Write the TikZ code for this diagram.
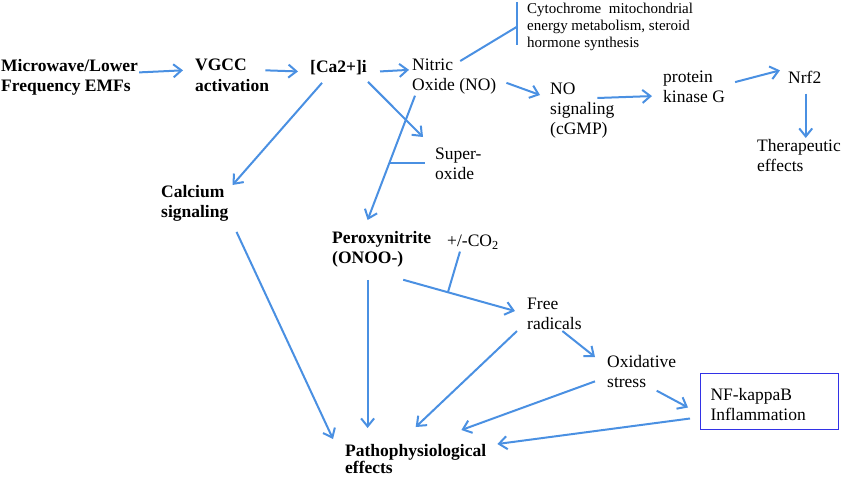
\documentclass[tikz,border=0pt]{standalone}
\usepackage{fontspec}
\setmainfont{Liberation Serif}
\usetikzlibrary{arrows.meta}
\definecolor{linkblue}{RGB}{74,144,226}
\definecolor{boxblue}{RGB}{50,50,230}
\tikzset{
  txt/.style={anchor=north west,inner sep=0pt,align=left,font=\fontsize{17.5}{20}\selectfont},
  btxt/.style={txt,font=\fontsize{17.5}{20.5}\selectfont\bfseries},
  smalltxt/.style={txt,font=\fontsize{15}{16.7}\selectfont},
  bar/.style={draw=linkblue,line width=2pt},
  link/.style={bar,-{Straight Barb[length=8pt,width=13pt]}},
}
\begin{document}
\begin{tikzpicture}[x=1pt,y=-1pt]
  \useasboundingbox (0,0) rectangle (850,476);
  \node (mw) at (1,59) [btxt] {Microwave/Lower\\Frequency EMFs};
  \node (vgcc) at (195,59) [btxt] {VGCC\\activation};
  \node (ca) at (310,60) [btxt] {[Ca2+]i};
  \node (no) at (412,59) [txt] {Nitric\\Oxide (NO)};
  \node (cyto) at (527,3) [smalltxt] {Cytochrome\ \ mitochondrial\\energy metabolism, steroid\\hormone synthesis};
  \node (nosig) at (550,83) [txt] {NO\\signaling\\(cGMP)};
  \node (pkg) at (663,71) [txt] {protein\\kinase G};
  \node (nrf) at (788,71) [txt] {Nrf2};
  \node (ther) at (757,139) [txt] {Therapeutic\\effects};
  \node (sup) at (435,148) [txt] {Super-\\oxide};
  \node (cal) at (161,185) [btxt] {Calcium\\signaling};
  \node (per) at (332,231) [btxt] {Peroxynitrite\\(ONOO-)};
  \node (co2) at (447,235) [txt] {+/-CO\textsubscript{2}};
  \node (free) at (527,298) [txt] {Free\\radicals};
  \node (oxi) at (607,355) [txt] {Oxidative\\stress};
  \node (nfk) at (700,373) [txt,draw=boxblue,line width=1pt,inner xsep=10pt,text width=118pt,minimum height=56pt,text depth=14pt] {NF-kappaB\\Inflammation};
  \node (pat) at (345,444) [btxt,font=\fontsize{17.5}{17.5}\selectfont\bfseries] {Pathophysiological\\effects};
  \coordinate (supend) at ([xshift=-10pt]sup.west);
  \coordinate (perfoot) at (per.south |- pat.north);
  \coordinate (nrffoot) at (nrf.south |- ther.north);

  \draw[link] ([shift={(1,-5)}]mw.east) -- ([shift={(-12,-5)}]vgcc.west);
  \draw[link] ([shift={(-4,-5)}]vgcc.east) -- ([shift={(-12,4)}]ca.west);
  \draw[link] ([shift={(13,4)}]ca.east) -- ([shift={(-3,-7)}]no.west);
  \draw[bar] ([shift={(-10,-1)}]cyto.north west) -- ([shift={(-10,-5)}]cyto.south west);
  \draw[bar] ([shift={(6,2)}]no.north) -- ([shift={(-10,0)}]cyto.west);
  \draw[link] ([shift={(10,6)}]no.east) -- ([shift={(-10,12)}]nosig.north west);
  \draw[link] ([shift={(15,15)}]nosig.north) -- ([shift={(-11,9)}]pkg.west);
  \draw[link] ([shift={(10,-5)}]pkg.east) -- ([shift={(-8,-7)}]nrf.west);
  \draw[link] ([shift={(1,10)}]nrf.south) -- ([shift={(1,-1)}]nrffoot);
  \draw[link] ([shift={(1,7)}]ca.south east) -- ([shift={(-12,-11)}]sup.north west);
  \draw[link] ([shift={(12,8)}]ca.south west) -- ([shift={(4,0)}]cal.north east);
  \draw[link] ([shift={(3,1)}]no.south west) -- coordinate[pos=0.54] (supjoin) ([shift={(-14,-11)}]per.north);
  \draw[bar] (supjoin) -- (supjoin -| supend);
  \draw[link] ([shift={(-28,12)}]per.south east) -- coordinate[pos=0.4] (cojoin) ([shift={(-12,-3)}]free.west);
  \draw[bar] (cojoin) -- ([shift={(-13,2)}]co2.south);
  \draw[link] ([shift={(-14,12)}]per.south) -- ([shift={(-14,-16)}]perfoot);
  \draw[link] ([shift={(8,10)}]cal.south east) -- ([shift={(-12,-5)}]pat.north west);
  \draw[link] ([shift={(-10,1)}]free.south west) -- ([shift={(0,-17)}]pat.north);
  \draw[link] ([shift={(8,1)}]free.south) -- ([shift={(-12,2)}]oxi.north west);
  \draw[link] ([shift={(-12,10)}]oxi.west) -- ([shift={(-25,-14)}]pat.north east);
  \draw[link] ([shift={(15,3)}]oxi.south) -- ([shift={(-12,6)}]nfk.west);
  \draw[link] ([shift={(-10,17)}]nfk.west) -- ([shift={(11,0)}]pat.north east);
\end{tikzpicture}
\end{document}
